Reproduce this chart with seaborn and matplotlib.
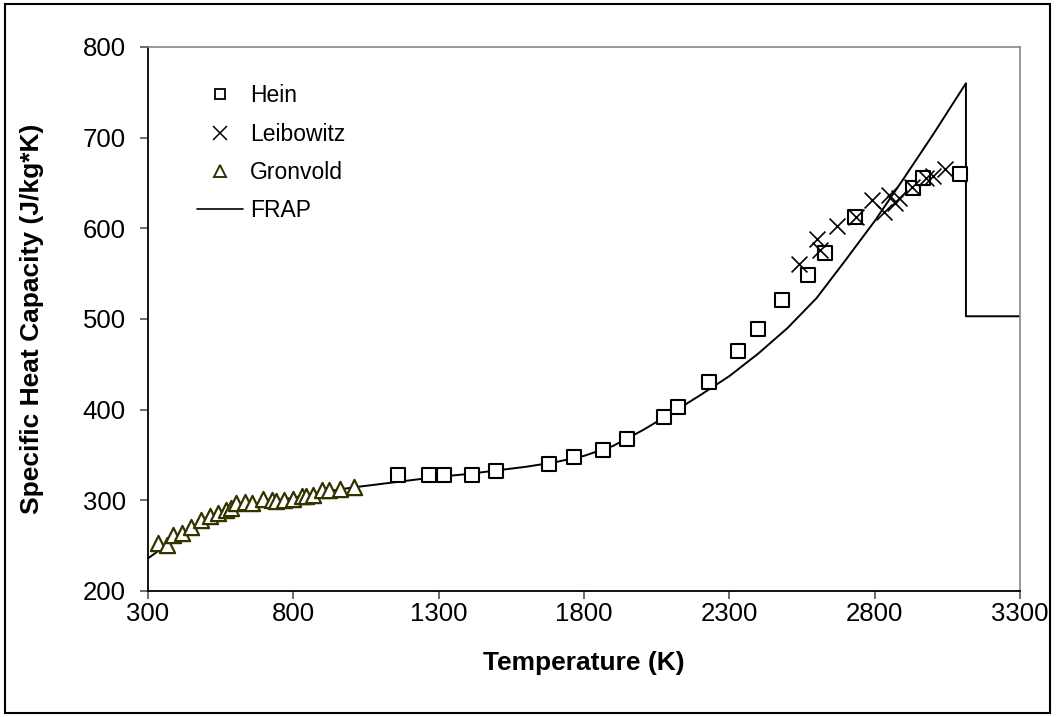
import matplotlib
matplotlib.use("Agg")
import matplotlib.pyplot as plt
import pandas as pd
import seaborn as sns
from matplotlib.lines import Line2D
from matplotlib.patches import Rectangle

# Hein data (temperature K, specific heat J/kg*K)
hein_t = [1160, 1267, 1318, 1415, 1496, 1679, 1766, 1866, 1947, 2074, 2123,
          2231, 2331, 2400, 2481, 2571, 2629, 2733, 2932, 2966, 3093]
hein_cp = [328, 328, 328, 328, 332, 340, 348, 356, 368, 392, 403,
           430, 465, 489, 521, 548, 573, 612, 645, 655, 660]

# Leibowitz data
leib_t = [2540, 2600, 2612, 2670, 2735, 2790, 2832, 2848, 2870, 2885,
          2928, 2975, 3000, 3042]
leib_cp = [561, 588, 576, 603, 613, 631, 618, 637, 628, 634,
           646, 655, 658, 665]

# Gronvold data
gron_t = [334, 366, 385, 418, 449, 483, 513, 540, 570, 584, 604, 635, 658,
          696, 725, 739, 767, 799, 830, 845, 868, 899, 922, 962, 1008]
gron_cp = [253, 251, 262, 264, 271, 278, 283, 286, 289, 291, 297, 298, 297,
           301, 300, 299, 300, 302, 305, 305, 306, 311, 311, 313, 315]

# FRAP correlation
frap_t = [300, 400, 500, 600, 700, 800, 900, 1000, 1100, 1200, 1300, 1400,
          1500, 1600, 1700, 1800, 1900, 2000, 2100, 2200, 2300, 2400, 2500,
          2600, 2700, 2800, 2900, 3000, 3114, 3114, 3300]
frap_cp = [236, 259, 276, 289, 297, 303, 309, 314, 318, 322, 326, 329,
           333, 337, 342, 349, 360, 377, 396, 416, 437, 462, 490,
           523, 565, 608, 655, 703, 760, 503, 503]

sns.set_theme(style="white")
plt.rcParams["font.family"] = ["Liberation Sans", "DejaVu Sans"]
plt.rcParams["text.color"] = "black"
plt.rcParams["axes.labelcolor"] = "black"
plt.rcParams["xtick.labelcolor"] = "black"
plt.rcParams["ytick.labelcolor"] = "black"

fig = plt.figure(figsize=(10.56, 7.17), dpi=100)
ax = fig.add_axes([148 / 1056, 1 - 591 / 717, 872 / 1056, 544 / 717])

frap = pd.DataFrame({"T": frap_t, "Cp": frap_cp})
sns.lineplot(data=frap, x="T", y="Cp", sort=False, estimator=None,
             color="black", lw=1.4, ax=ax)

gron = pd.DataFrame({"T": gron_t, "Cp": gron_cp})
sns.scatterplot(data=gron, x="T", y="Cp", marker="^", s=120, facecolor="white",
                edgecolor="#333300", linewidth=1.6, ax=ax, zorder=3)

hein = pd.DataFrame({"T": hein_t, "Cp": hein_cp})
sns.scatterplot(data=hein, x="T", y="Cp", marker="s", s=105, facecolor="white",
                edgecolor="black", linewidth=1.5, ax=ax, zorder=4)

leib = pd.DataFrame({"T": leib_t, "Cp": leib_cp})
sns.scatterplot(data=leib, x="T", y="Cp", marker="x", s=130, color="black",
                linewidth=1.2, ax=ax, zorder=5)

ax.set_xlim(300, 3300)
ax.set_ylim(200, 800)
ax.set_xticks(range(300, 3301, 500))
ax.set_yticks(range(200, 801, 100))
ax.tick_params(axis="both", direction="out", length=6, width=1.2, color="#555555",
               labelsize=18.5, bottom=True, left=True, labelcolor="black")
ax.tick_params(axis="y", pad=10)
ax.tick_params(axis="x", pad=2)
for side in ["left", "bottom"]:
    ax.spines[side].set_color("black")
    ax.spines[side].set_linewidth(1.3)
for side in ["top", "right"]:
    ax.spines[side].set_color("#888888")
    ax.spines[side].set_linewidth(1.2)

ax.set_xlabel("Temperature (K)", fontsize=19, fontweight="bold", labelpad=18)
ax.set_ylabel("Specific Heat Capacity (J/kg*K)", fontsize=19, fontweight="bold", labelpad=28)

handles = [
    Line2D([], [], ls="none", marker="s", ms=7.5, mfc="white", mec="black", mew=1.3),
    Line2D([], [], ls="none", marker="x", ms=10, color="black", mew=1.1),
    Line2D([], [], ls="none", marker="^", ms=8.5, mfc="white", mec="#333300", mew=1.4),
    Line2D([], [], color="black", lw=1.2),
]
ax.legend(handles, ["Hein", "Leibowitz", "Gronvold", "FRAP"], loc="upper left",
          bbox_to_anchor=(0.0326, 0.969), frameon=False, fontsize=16.5,
          handlelength=2.0, handletextpad=0.3, labelspacing=0.66, labelcolor="black")

fig.patches.append(Rectangle((5 / 1056, 4 / 717), 1045 / 1056, 709 / 717,
                             transform=fig.transFigure, fill=False,
                             edgecolor="black", linewidth=1.5))

fig.savefig("out.png", dpi=100, facecolor="white")
